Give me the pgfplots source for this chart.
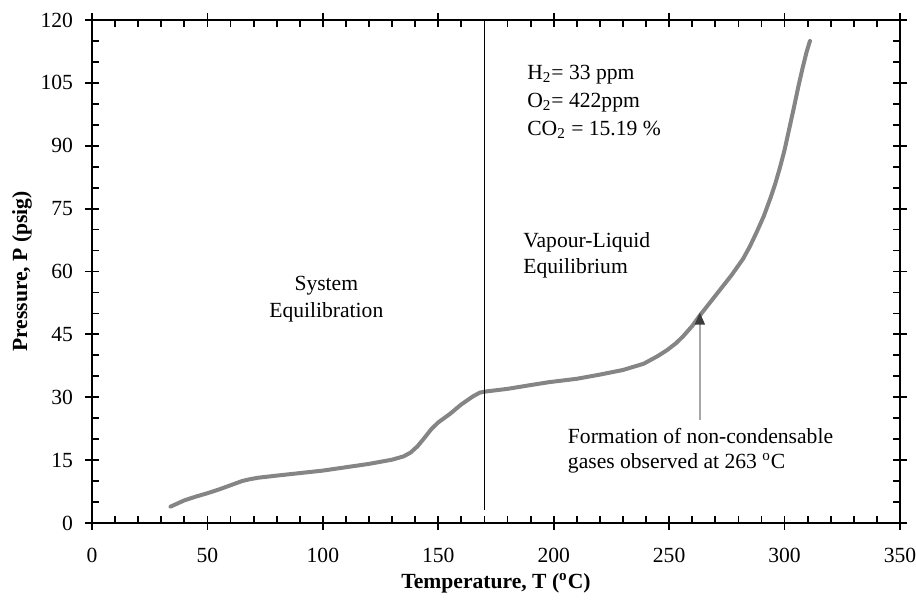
\documentclass[border=0pt]{standalone}
\usepackage{fontspec}
\setmainfont{Liberation Serif}
\usepackage{pgfplots}
\pgfplotsset{compat=1.18}
\usetikzlibrary{arrows.meta}

\definecolor{curvegray}{HTML}{858585}
\definecolor{arrowgray}{HTML}{A8A8A8}
\definecolor{headgray}{HTML}{3C3C3C}

\pgfplotsset{
  frame/.style={
    scale only axis, width=404pt, height=251.5pt,
    xmin=0, xmax=350, ymin=0, ymax=120,
    xtick={0,50,...,350}, ytick={0,15,...,120},
    tick pos=both,
    axis line style={line width=1.2pt},
    every tick/.style={black, line width=0.9pt},
  }
}

\begin{document}
\begin{tikzpicture}
  \begin{axis}[
    frame,
    tick align=inside,
    major tick length=3.5pt, minor tick length=3.5pt,
    minor x tick num=4, minor y tick num=2,
    font=\fontsize{10.8}{13}\selectfont,
    /pgf/number format/assume math mode=true,
    xticklabel style={yshift=-9pt},
    yticklabel style={xshift=-6pt},
    xlabel={\textbf{Temperature, T (\textsuperscript{o}C)}},
    ylabel={\textbf{Pressure, P (psig)}},
    xlabel style={at={(axis description cs:0.5,-0.1193)}, anchor=center},
    ylabel style={at={(axis description cs:-0.0866,0.5)}, anchor=center, rotate=0},
  ]
    % measured curve
    \addplot[curvegray, line width=2pt, line join=round, line cap=round]
      coordinates {
        (34,3.9)(40,5.4)(45,6.3)(50,7.1)(55,8.0)(60,9.0)(65,10.0)(68,10.4)
        (72,10.8)(80,11.3)(90,11.9)(100,12.5)(110,13.3)(120,14.1)(130,15.1)
        (135,15.9)(138,16.8)(141,18.3)(144,20.3)(147,22.4)(150,24.0)(155,26.0)
        (160,28.3)(165,30.2)(168,31.1)(171,31.4)(180,32.0)(190,32.9)(198,33.6)
        (210,34.4)(220,35.4)(230,36.5)(239,38.0)(245,39.8)(249,41.2)(253,42.9)
        (256,44.5)(260,47.0)(263,49.3)(268,52.8)(272,55.6)(277,59.1)(282,63.0)
        (285,66.0)(288,69.5)(291,73.2)(294,77.7)(296,81.0)(298,84.8)(300,89.0)
        (302,94.0)(304,99.0)(306,104.2)(308,109.0)(309.5,112.3)(311,115.0)
      };
    % boundary between the two regions
    \addplot[black, line width=0.6pt] coordinates {(170,3.2)(170,120)};

    \draw[arrowgray, line width=0.9pt,
      -{Triangle[length=6pt,width=5pt,fill=headgray,color=headgray]}]
      (axis cs:263.3,24.5) -- (axis cs:263.3,50.2);

    \node[anchor=base] at (axis cs:101.5,55.5) {System};
    \node[anchor=base] at (axis cs:101.5,49.1) {Equilibration};
    \node[anchor=base west, inner sep=0pt] at (axis cs:186.7,65.8) {Vapour-Liquid};
    \node[anchor=base west, inner sep=0pt] at (axis cs:186.7,59.6) {Equilibrium};
    \node[anchor=base west, inner sep=0pt] at (axis cs:188.4,105.8) {H\textsubscript{2}= 33 ppm};
    \node[anchor=base west, inner sep=0pt] at (axis cs:188.4,99.1) {O\textsubscript{2}= 422ppm};
    \node[anchor=base west, inner sep=0pt] at (axis cs:188.4,92.4) {CO\textsubscript{2} = 15.19 \%};
    \node[anchor=base west, inner sep=0pt] at (axis cs:206,19.0) {Formation of non-condensable};
    \node[anchor=base west, inner sep=0pt] at (axis cs:206,13.0) {gases observed at 263 \textsuperscript{o}C};
  \end{axis}
  % outer half of the major ticks
  \begin{axis}[
    frame,
    tick align=outside,
    major tick length=3.5pt,
    minor tick num=0,
    xticklabels={}, yticklabels={},
  ]
  \end{axis}
  \pgfresetboundingbox
  \path (current axis.south west) ++(-46pt,-39.5pt) coordinate (bbA);
  \path (current axis.north east) ++(8pt,10pt) coordinate (bbB);
  \path[use as bounding box] (bbA) rectangle (bbB);
\end{tikzpicture}
\end{document}
